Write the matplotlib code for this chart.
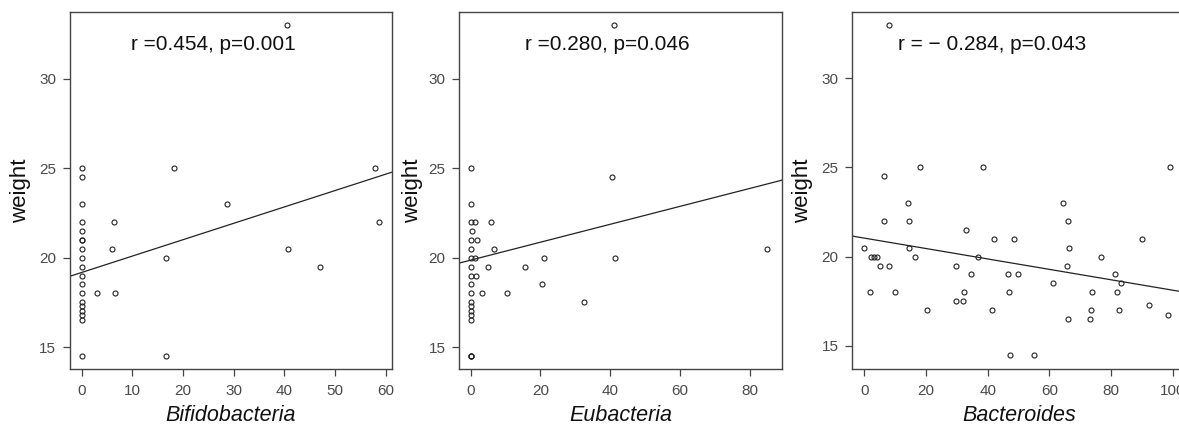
import matplotlib

matplotlib.use("Agg")
import matplotlib.pyplot as plt
import numpy as np

plt.rcParams["font.family"] = ["Liberation Sans", "DejaVu Sans"]

# ── data ───────────────────────────────────────────────────────────────────
bifido_x = [40.5, 0, 0, 0, 0, 0, 0, 0, 0, 0, 0, 0, 0, 0, 0, 0, 0, 0, 0, 0,
            3.0, 5.9, 6.4, 6.6, 16.6, 16.6, 18.3, 28.6, 40.7, 47.0, 57.9, 58.7]
bifido_y = [33.0, 25, 24.5, 23, 22, 21.5, 21, 21, 20.5, 20, 19.5, 19, 18.5, 18,
            17.5, 17.3, 17, 16.8, 16.5, 14.5,
            18, 20.5, 22, 18, 20, 14.5, 25, 23, 20.5, 19.5, 25, 22]

eubac_x = [41.2, 40.5, 41.3, 85.1, 32.4, 20.9, 20.4, 15.7, 10.4, 6.7, 5.9, 5.1,
           3.2, 1.9, 1.3, 1.2, 1.4, 0.4,
           0, 0, 0, 0, 0, 0, 0, 0, 0, 0, 0, 0, 0, 0, 0, 0, 0, 0]
eubac_y = [33.0, 24.5, 20, 20.5, 17.5, 20, 18.5, 19.5, 18, 20.5, 22, 19.5,
           18, 21, 22, 20, 19, 21.5,
           25, 23, 22, 21, 20.5, 20, 19.5, 19, 18.5, 18, 17.5, 17.3, 17, 16.8,
           16.5, 14.5, 14.5, 14.5]

bacter_x = [8.0, 18.2, 38.4, 99.1, 6.5, 14.1, 64.3, 6.5, 14.5, 66.1, 33.1, 41.9,
            48.4, 90.2, 0, 14.6, 66.4, 2.1, 3.0, 4.2, 16.5, 36.8, 76.8, 5.0, 8.1,
            29.6, 65.8, 34.7, 46.7, 49.8, 81.2, 61.1, 83.2, 1.9, 10.1, 32.4, 46.9,
            73.9, 82.1, 29.6, 32.1, 92.4, 20.4, 41.4, 73.4, 82.7, 98.4, 66.2,
            73.1, 47.2, 55.1]
bacter_y = [33.0, 25, 25, 25, 24.5, 23, 23, 22, 22, 22, 21.5, 21,
            21, 21, 20.5, 20.5, 20.5, 20, 20, 20, 20, 20, 20, 19.5, 19.5,
            19.5, 19.5, 19, 19, 19, 19, 18.5, 18.5, 18, 18, 18, 18,
            18, 18, 17.5, 17.5, 17.3, 17, 17, 17, 17, 16.75, 16.5,
            16.5, 14.5, 14.5]

# fitted line (intercept, slope) and annotation per panel
fits = [(19.17, 0.0917), (19.86, 0.0501), (21.04, -0.0292)]
labels = ["r =0.454, p=0.001", "r =0.280, p=0.046", "r = \u2212 0.284, p=0.043"]
names = ["Bifidobacteria", "Eubacteria", "Bacteroides"]
xticks = [[0, 10, 20, 30, 40, 50, 60], [0, 20, 40, 60, 80], [0, 20, 40, 60, 80, 100]]
yticks = [15, 20, 25, 30]

# ── layout ─────────────────────────────────────────────────────────────────
W, H = 1179, 430
fig = plt.figure(figsize=(W / 100, H / 100), dpi=100)
boxes = [(70, 322), (459.3, 322.4), (852.3, 333)]
xlims = [(-2.3, 61.2), (-3.26, 89.2), (-3.9, 104.1)]
ylims = [(13.77, 33.74), (13.77, 33.74), (13.7, 33.72)]
text_x = [0.189, 0.204, 0.136]
ylab_x = [-0.12, -0.112, -0.117]
top, bottom = 12, 369

spine_col = "#444444"
series = [(bifido_x, bifido_y), (eubac_x, eubac_y), (bacter_x, bacter_y)]

for i, (xs, ys) in enumerate(series):
    left, width = boxes[i]
    ax = fig.add_axes([left / W, 1 - bottom / H, width / W, (bottom - top) / H])
    ax.plot(xs, ys, "o", ms=3.6, mfc="none", mec="#222222", mew=0.8)

    a, b = fits[i]
    xl = np.array(xlims[i])
    ax.plot(xl, a + b * xl, color="#222222", lw=0.9)

    ax.set_xlim(*xlims[i])
    ax.set_ylim(*ylims[i])
    ax.set_xticks(xticks[i])
    ax.set_yticks(yticks)
    ax.tick_params(direction="out", length=5, width=0.9, color=spine_col,
                   labelsize=11, labelcolor="#4a4a4a")
    ax.tick_params(axis="x", pad=6)
    ax.tick_params(axis="y", pad=5)
    for s in ax.spines.values():
        s.set_color(spine_col)
        s.set_linewidth(1.0)

    ax.text(text_x[i], 0.91, labels[i], transform=ax.transAxes,
            ha="left", va="center", fontsize=15, color="#111111")

    ax.set_ylabel("weight", fontsize=16, color="#111111")
    ax.yaxis.set_label_coords(ylab_x[i], 0.5)
    ax.set_xlabel(names[i], fontsize=15.5, style="italic", color="#111111")
    ax.xaxis.set_label_coords(0.5, -0.1)
    ax.xaxis.label.set_va("top")

fig.savefig("out.png", dpi=100)
